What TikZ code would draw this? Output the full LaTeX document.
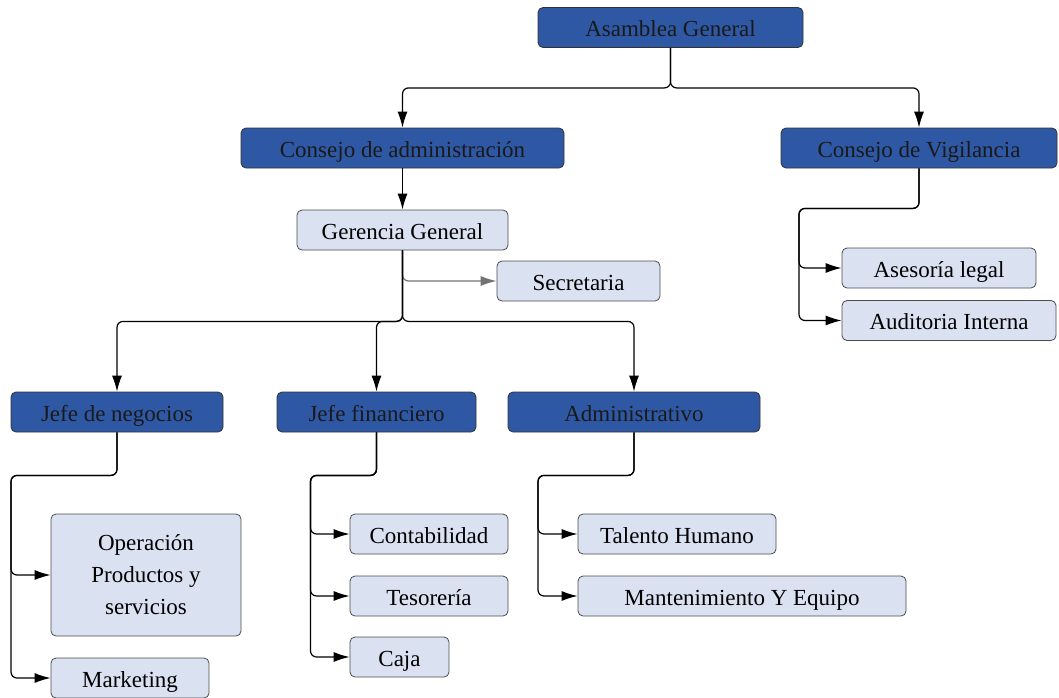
\documentclass[tikz,border=0pt]{standalone}
\usepackage{fontspec}
\setmainfont{Liberation Serif}
\usepackage{tikz}
\usetikzlibrary{arrows.meta,positioning}

\definecolor{jefe}{RGB}{47,88,164}
\definecolor{area}{RGB}{218,226,242}

\begin{document}
\begin{tikzpicture}[x=0.5pt, y=-0.5pt,
		>={Latex[length=8pt,width=5pt]},
		box/.style = {rounded corners=2.5pt, minimum height=20pt, inner sep=0pt, font=\fontsize{11.5}{13}\selectfont},
		dark/.style = {box, draw=black!80, fill=jefe, text height=11pt, text depth=2pt, text=black!90},
		areabox/.style = {box, draw=black!70, fill=area},
		light/.style = {areabox, text height=11pt, text depth=2pt},
		con/.style = {->, line width=0.6pt, rounded corners=3pt}
		]
		\useasboundingbox (0,0) rectangle (1059,697);
		
		\node (asam) [dark, minimum width=132.5pt] at (670.5,27.5) {Asamblea General};
		\node (cadm) [dark, minimum width=161.5pt] at (402.5,148)  {Consejo de administración};
		\node (cvig) [dark, minimum width=138pt]   at (919,148)    {Consejo de Vigilancia};
		\node (ger)  [light, minimum width=105.5pt] at (402.5,230) {Gerencia General};
		\node (sec)  [light, minimum width=81.5pt] at (578.5,281)  {Secretaria};
		\node (ase)  [light, minimum width=97pt]   at (939,268)    {Asesoría legal};
		\node (aud)  [light, minimum width=107pt]  at (949,320.5)  {Auditoria Interna};
		
		\node (jneg) [dark, minimum width=106pt]   at (117,412)    {Jefe de negocios};
		\node (jfin) [dark, minimum width=99.5pt]  at (376.5,412)  {Jefe financiero};
		\node (adm)  [dark, minimum width=126pt]   at (634,412)    {Administrativo};
		
		\node (oper) [areabox, minimum width=95pt, minimum height=61pt, align=center] at (146,575) {Operación\\[3pt]Productos y\\[3pt]servicios};
		\node (mark) [light, minimum width=79pt]   at (130,678)    {Marketing};
		\node (cont) [light, minimum width=79pt]   at (429,534)    {Contabilidad};
		\node (tes)  [light, minimum width=79pt]   at (429,596)    {Tesorería};
		\node (caja) [light, minimum width=49.5pt] at (399.5,657)  {Caja};
		\node (tal)  [light, minimum width=99pt]   at (677,534)    {Talento Humano};
		\node (mant) [light, minimum width=164pt]  at (742,596)    {Mantenimiento Y Equipo};
		
		% asamblea
		\draw[con] (asam.south) -- ++(0,40) -| (cadm.north);
		\draw[con] (asam.south) -- ++(0,40) -| (cvig.north);
		\draw[con] (cadm.south) -- (ger.north);
		
		% gerencia
		\draw[con, draw=black!55, -{Latex[length=8pt,width=5pt,fill=black!55]}] (ger.south) |- (sec.west);
		\draw[con] (ger.south) -- ++(0,71) -| (jneg.north);
		\draw[con] (ger.south) -- ++(0,71) -| (jfin.north);
		\draw[con] (ger.south) -- ++(0,71) -| (adm.north);
		
		% vigilancia
		\draw[con] (cvig.south) -- ++(0,40) -- ++(-120,0) |- (ase.west);
		\draw[con] (cvig.south) -- ++(0,40) -- ++(-120,0) |- (aud.west);
		
		% jefes
		\draw[con] (jneg.south) -- ++(0,43) -- ++(-106,0) |- (oper.west);
		\draw[con] (jneg.south) -- ++(0,43) -- ++(-106,0) |- (mark.west);
		\draw[con] (jfin.south) -- ++(0,43) -- ++(-66,0) |- (cont.west);
		\draw[con] (jfin.south) -- ++(0,43) -- ++(-66,0) |- (tes.west);
		\draw[con] (jfin.south) -- ++(0,43) -- ++(-66,0) |- (caja.west);
		\draw[con] (adm.south) -- ++(0,43) -- ++(-96,0) |- (tal.west);
		\draw[con] (adm.south) -- ++(0,43) -- ++(-96,0) |- (mant.west);
		
\end{tikzpicture}
\end{document}
